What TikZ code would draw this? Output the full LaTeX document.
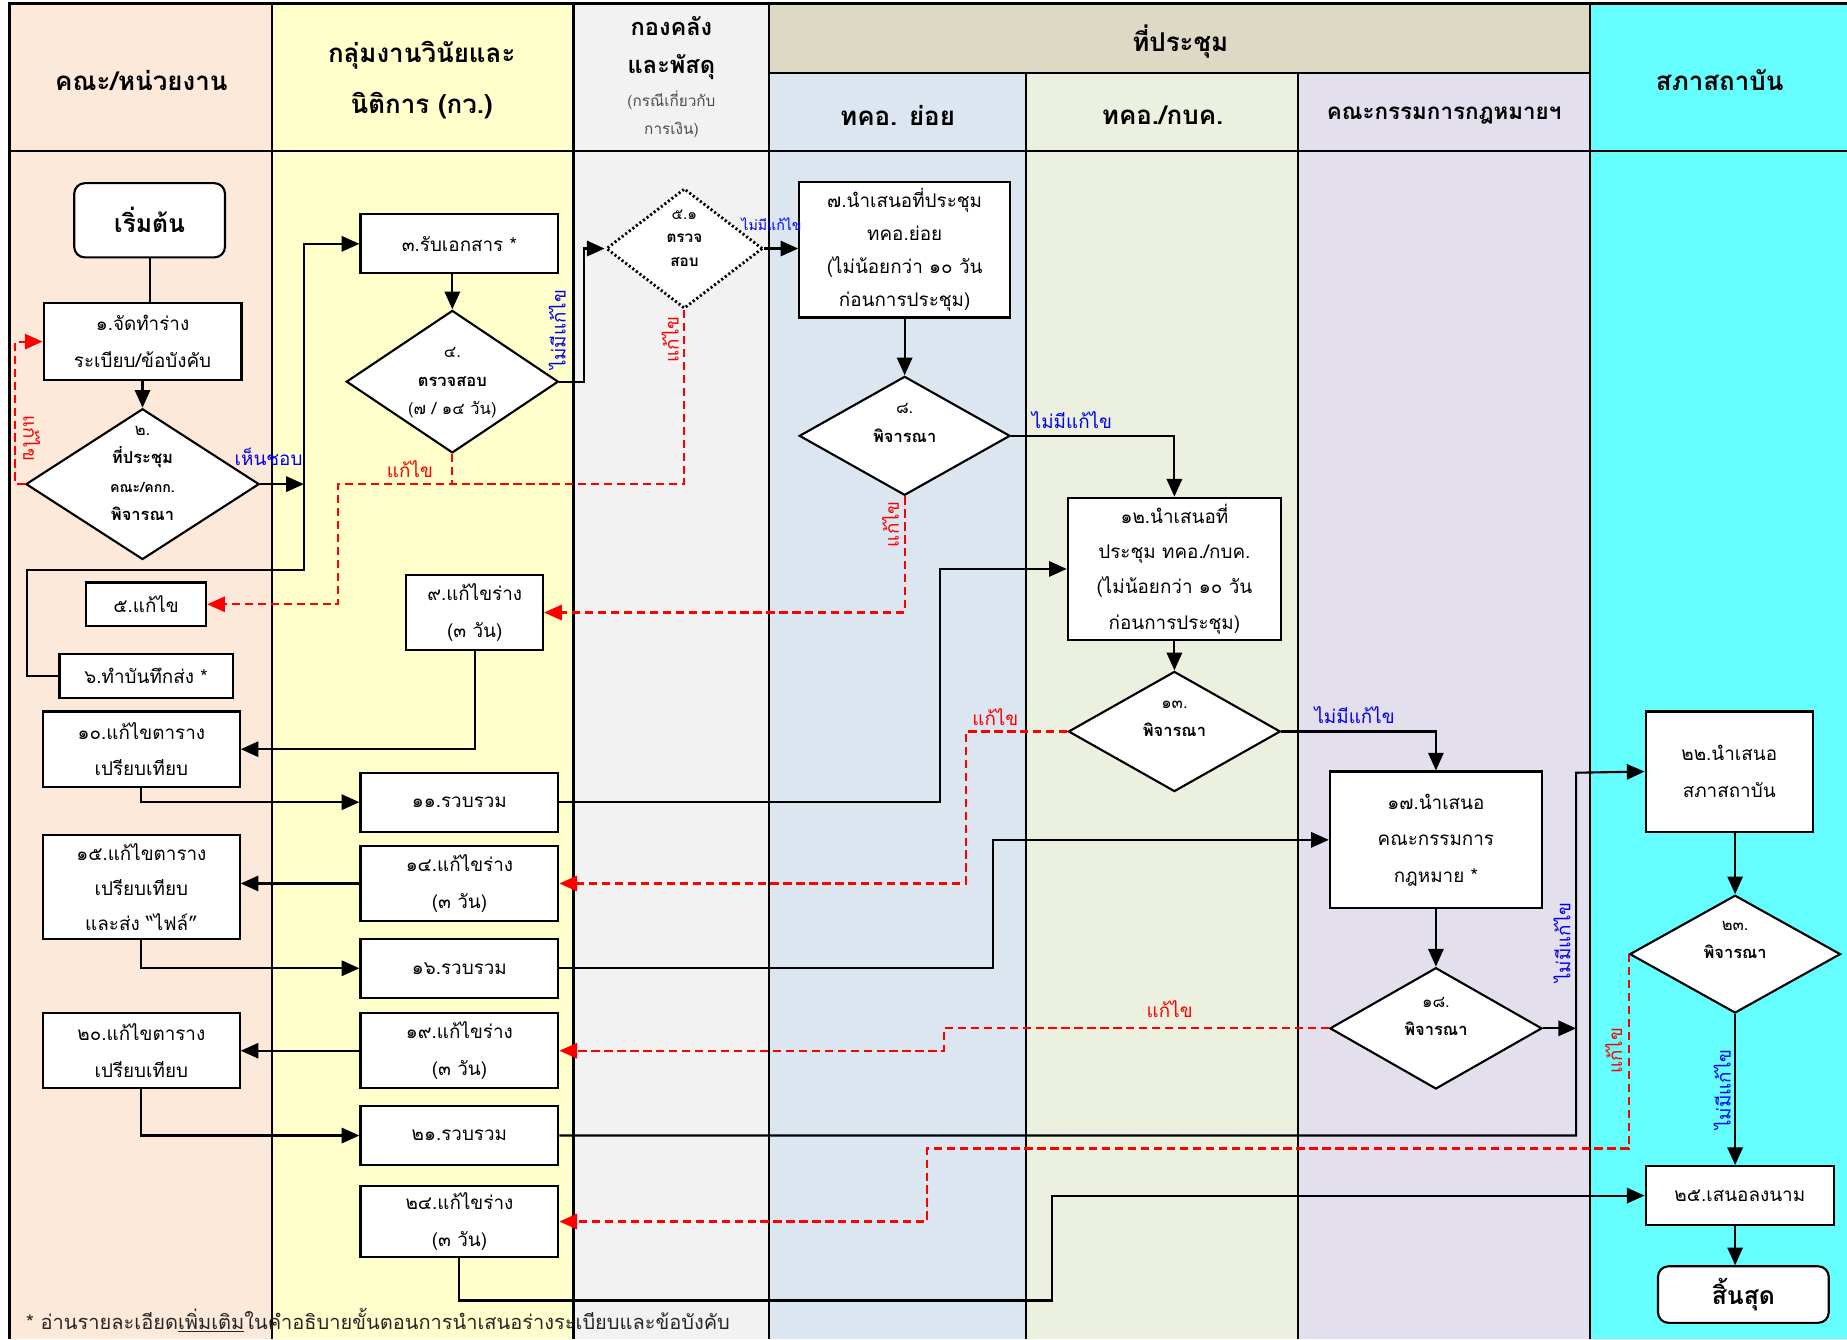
\documentclass[tikz,border=0pt]{standalone}
\usepackage{fontspec}
\setmainfont[Script=Thai]{Loma}
\usetikzlibrary{shapes.geometric, arrows.meta}
\definecolor{laneA}{HTML}{FDE9D9}
\definecolor{laneB}{HTML}{FFFFCC}
\definecolor{laneC}{HTML}{F2F2F2}
\definecolor{laneD}{HTML}{DCE6F1}
\definecolor{laneE}{HTML}{EBF1DE}
\definecolor{laneF}{HTML}{E4DFEC}
\definecolor{laneG}{HTML}{66FFFF}
\definecolor{meetcol}{HTML}{DDD9C4}
\definecolor{okblue}{HTML}{0000EE}
\tikzstyle{laneline}=[line width=2pt]
\tikzstyle{headtext}=[align=center, font=\bfseries\fontsize{22}{43}\selectfont]
\tikzstyle{stepbox}=[rectangle, draw, line width=1.8pt, fill=white, inner sep=0pt, align=center, font=\fontsize{16}{31}\selectfont]
\tikzstyle{termbox}=[stepbox, rounded corners=9pt, font=\bfseries\fontsize{21}{24}\selectfont]
\tikzstyle{decision}=[diamond, draw, line width=1.8pt, fill=white, inner sep=0pt]
\tikzstyle{dotdecision}=[decision, dotted, line width=2.4pt]
\tikzstyle{dtext}=[align=center, font=\fontsize{14}{24}\selectfont]
\tikzstyle{arrow}=[line width=1.8pt,-{Triangle[length=15pt,width=13pt]}]
\tikzstyle{redarrow}=[arrow, red, dash pattern=on 7pt off 4pt]
\tikzstyle{reddash}=[line width=1.8pt, red, dash pattern=on 7pt off 4pt]
\tikzstyle{yeslabel}=[okblue, font=\fontsize{16}{18}\selectfont, inner sep=1pt]
\tikzstyle{fixlabel}=[red, font=\fontsize{16}{18}\selectfont, inner sep=1pt]

\begin{document}
\begin{tikzpicture}[x=1pt,y=-1pt]
\useasboundingbox (0,0) rectangle (1568,1137);
% lanes
\fill[laneA] (8,3) rectangle (231,1137);
\fill[laneB] (231,3) rectangle (487,1137);
\fill[laneC] (487,3) rectangle (653,1137);
\fill[laneD] (653,62) rectangle (871,1137);
\fill[laneE] (871,62) rectangle (1102,1137);
\fill[laneF] (1102,62) rectangle (1350,1137);
\fill[laneG] (1350,3) rectangle (1568,1137);
\fill[meetcol] (653,3) rectangle (1350,62);
\draw[laneline] (8,1137) -- (8,3) -- (1568,3);
\draw[laneline] (8,128) -- (1568,128);
\draw[laneline] (653,62) -- (1350,62);
\foreach \x in {231,487,653,1350}
	\draw[laneline] (\x,3) -- (\x,1137);
\foreach \x in {871,1102}
	\draw[laneline] (\x,62) -- (\x,1137);

% headings
\node[headtext] (h1) at (120,68) {คณะ/หน่วยงาน};
\node[headtext] (h2) at (358,68) {กลุ่มงานวินัยและ\\นิติการ (กว.)};
\node[headtext, font=\bfseries\fontsize{20}{32}\selectfont] (h3) at (570,41) {กองคลัง\\และพัสดุ};
\node[align=center, black!70, font=\fontsize{13}{23}\selectfont] (h3b) at (570,97) {(กรณีเกี่ยวกับ\\การเงิน)};
\node[headtext] (h4) at (1002,35) {ที่ประชุม};
\node[headtext] (h5) at (762,98) {ทคอ. ย่อย};
\node[headtext] (h6) at (987,98) {ทคอ./กบค.};
\node[headtext, font=\bfseries\fontsize{19}{22}\selectfont] (h7) at (1226,98) {คณะกรรมการกฎหมายฯ};
\node[headtext] (h8) at (1460,68) {สภาสถาบัน};

% steps
\node[termbox, minimum width=128pt, minimum height=63pt] (start) at (127,187) {เริ่มต้น};
\node[stepbox, minimum width=168pt, minimum height=65pt] (n1) at (121,290) {๑.จัดทำร่าง\\ระเบียบ/ข้อบังคับ};
\node[decision, minimum width=198pt, minimum height=128pt] (n2) at (121,411) {};
\node[dtext] (n2t) at (121,402) {๒.\\{\bfseries ที่ประชุม}\\{\bfseries\fontsize{12}{24}\selectfont คณะ/คกก.}\\{\bfseries พิจารณา}};
\node[stepbox, minimum width=168pt, minimum height=50pt] (n3) at (390,207) {๓.รับเอกสาร *};
\node[decision, minimum width=180pt, minimum height=121pt] (n4) at (384,324) {};
\node[dtext] (n4t) at (384,325) {๔.\\{\bfseries ตรวจสอบ}\\(๗ / ๑๔ วัน)};
\node[dotdecision, minimum width=133pt, minimum height=102pt] (n51) at (581,211) {};
\node[dtext, font=\fontsize{13}{20}\selectfont] (n51t) at (581,202) {๕.๑\\{\bfseries ตรวจ}\\{\bfseries สอบ}};
\node[stepbox, minimum width=102pt, minimum height=37pt] (n5) at (124,513) {๕.แก้ไข};
\node[stepbox, minimum width=147pt, minimum height=37pt] (n6) at (124,574) {๖.ทำบันทึกส่ง *};
\node[stepbox, minimum width=179pt, minimum height=115pt, font=\fontsize{16}{28}\selectfont] (n7) at (768,212) {๗.นำเสนอที่ประชุม\\ทคอ.ย่อย\\(ไม่น้อยกว่า ๑๐ วัน\\ก่อนการประชุม)};
\node[decision, minimum width=179pt, minimum height=101pt] (n8) at (768,370) {};
\node[dtext] (n8t) at (768,359) {๘.\\{\bfseries พิจารณา}};
\node[stepbox, minimum width=116pt, minimum height=63pt] (n9) at (403,520) {๙.แก้ไขร่าง\\(๓ วัน)};
\node[stepbox, minimum width=167pt, minimum height=64pt] (n10) at (120,636) {๑๐.แก้ไขตาราง\\เปรียบเทียบ};
\node[stepbox, minimum width=168pt, minimum height=50pt] (n11) at (390,681) {๑๑.รวบรวม};
\node[stepbox, minimum width=181pt, minimum height=121pt, font=\fontsize{16}{30}\selectfont] (n12) at (997,483) {๑๒.นำเสนอที่\\ประชุม ทคอ./กบค.\\(ไม่น้อยกว่า ๑๐ วัน\\ก่อนการประชุม)};
\node[decision, minimum width=180pt, minimum height=102pt] (n13) at (997,621) {};
\node[dtext] (n13t) at (997,610) {๑๓.\\{\bfseries พิจารณา}};
\node[stepbox, minimum width=168pt, minimum height=63pt] (n14) at (390,750) {๑๔.แก้ไขร่าง\\(๓ วัน)};
\node[stepbox, minimum width=167pt, minimum height=89pt, font=\fontsize{16}{30}\selectfont] (n15) at (120,753) {๑๕.แก้ไขตาราง\\เปรียบเทียบ\\และส่ง “ไฟล์”};
\node[stepbox, minimum width=168pt, minimum height=50pt] (n16) at (390,822) {๑๖.รวบรวม};
\node[stepbox, minimum width=180pt, minimum height=116pt] (n17) at (1219,713) {๑๗.นำเสนอ\\คณะกรรมการ\\กฎหมาย *};
\node[decision, minimum width=180pt, minimum height=103pt] (n18) at (1219,873) {};
\node[dtext] (n18t) at (1219,863) {๑๘.\\{\bfseries พิจารณา}};
\node[stepbox, minimum width=168pt, minimum height=64pt] (n19) at (390,892) {๑๙.แก้ไขร่าง\\(๓ วัน)};
\node[stepbox, minimum width=167pt, minimum height=64pt] (n20) at (120,892) {๒๐.แก้ไขตาราง\\เปรียบเทียบ};
\node[stepbox, minimum width=168pt, minimum height=50pt] (n21) at (390,964) {๒๑.รวบรวม};
\node[stepbox, minimum width=142pt, minimum height=102pt] (n22) at (1468,655) {๒๒.นำเสนอ\\สภาสถาบัน};
\node[decision, minimum width=179pt, minimum height=100pt] (n23) at (1473,810) {};
\node[dtext] (n23t) at (1473,798) {๒๓.\\{\bfseries พิจารณา}};
\node[stepbox, minimum width=168pt, minimum height=60pt] (n24) at (390,1037) {๒๔.แก้ไขร่าง\\(๓ วัน)};
\node[stepbox, minimum width=160pt, minimum height=50pt] (n25) at (1477,1015) {๒๕.เสนอลงนาม};
\node[termbox, minimum width=145pt, minimum height=48pt] (end) at (1480,1099) {สิ้นสุด};

\coordinate (busA) at (258,484);
\coordinate (fixA) at (287,411);
\coordinate (busB) at (1338,656);

% flow
\draw[line width=1.8pt] (start.south) -- (start.south |- n1.north);
\draw[arrow] (n1.south) -- (n2.north);
\draw[arrow] (n6.west) -- ++(-27,0) |- (busA) |- (n3.west);
\draw[arrow] (n2.east) -- (n2.east -| busA);
\draw[arrow] (n4.north |- n3.south) -- (n4.north);
\draw[arrow] (n4.east) -- ++(21,0) |- (n51.west);
\draw[arrow] (n51.east) -- (n51.east -| n7.west);
\draw[arrow] (n7.south) -- (n8.north);
\draw[arrow] (n8.east) -| (n12.north);
\draw[arrow] (n9.south) |- (n10.east);
\draw[arrow] (n10.south) |- (n11.west);
\draw[arrow] (n11.east) -- ++(323,0) |- (n12.west);
\draw[arrow] (n12.south) -- (n13.north);
\draw[arrow] (n13.east) -| (n17.north);
\draw[arrow] (n14.west) -- (n14.west -| n15.east);
\draw[arrow] (n15.south) |- (n16.west);
\draw[arrow] (n16.east) -- ++(368,0) |- (n17.west);
\draw[arrow] (n17.south) -- (n18.north);
\draw[arrow] (n18.east) -- (n18.east -| busB);
\draw[arrow] (n21.east) -| (busB) -- (n22.west);
\draw[arrow] (n19.west) -- (n20.east);
\draw[arrow] (n20.south) |- (n21.west);
\draw[arrow] (n23.north |- n22.south) -- (n23.north);
\draw[arrow] (n23.south) -- (n23.south |- n25.north);
\draw[arrow] (n24.south) |- (893,1104) |- (n25.west);
\draw[arrow] (n23.south |- n25.south) -- (n23.south |- end.north);

% send back
\draw[redarrow] (n2.west) -- ++(-8,0) |- (n1.west);
\draw[redarrow] (n51.south) |- (fixA) |- (n5.east);
\draw[reddash] (n4.south) -- (n4.south |- fixA);
\draw[redarrow] (n8.south) |- (n9.east);
\draw[redarrow] (n13.west) -- ++(-86,0) |- (n14.east);
\draw[redarrow] (n18.west) -- ++(-327,0) |- (n19.east);
\draw[redarrow] (n23.west) |- (787,975) |- (n24.east);

% labels
\node[fixlabel, rotate=-90] (l1) at (27,372) {แก้ไข};
\node[yeslabel] (l2) at (228,388) {เห็นชอบ};
\node[yeslabel, rotate=90] (l3) at (473,280) {ไม่มีแก้ไข};
\node[fixlabel] (l4) at (348,398) {แก้ไข};
\node[fixlabel, rotate=90] (l5) at (569,288) {แก้ไข};
\node[yeslabel, font=\fontsize{12}{14}\selectfont] (l6) at (655,190) {ไม่มีแก้ไข};
\node[yeslabel] (l7) at (910,357) {ไม่มีแก้ไข};
\node[fixlabel, rotate=90] (l8) at (756,445) {แก้ไข};
\node[fixlabel] (l9) at (845,609) {แก้ไข};
\node[yeslabel] (l10) at (1150,607) {ไม่มีแก้ไข};
\node[fixlabel] (l11) at (993,857) {แก้ไข};
\node[yeslabel, rotate=90] (l12) at (1326,800) {ไม่มีแก้ไข};
\node[fixlabel, rotate=90] (l13) at (1370,892) {แก้ไข};
\node[yeslabel, rotate=90] (l14) at (1462,925) {ไม่มีแก้ไข};

% note
\node[anchor=west, black!85, inner sep=0pt, font=\fontsize{17}{19}\selectfont] (note) at (22,1121) {* อ่านรายละเอียด\underline{เพิ่มเติม}ในคำอธิบายขั้นตอนการนำเสนอร่างระเบียบและข้อบังคับ};
\end{tikzpicture}
\end{document}
